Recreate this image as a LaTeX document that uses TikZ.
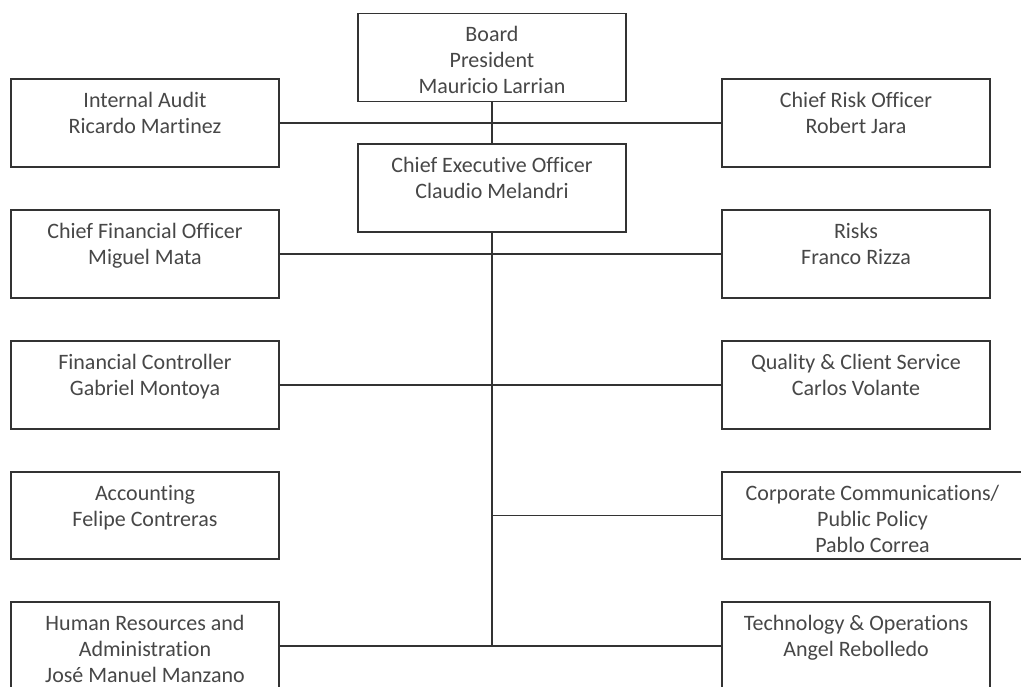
\documentclass[tikz,border=0pt]{standalone}
\usepackage{fontspec}
\setmainfont[Ligatures=NoCommon]{Carlito}
\usetikzlibrary{calc}
\definecolor{txtgray}{HTML}{474747}
\definecolor{linegray}{HTML}{333333}
\begin{document}
\begin{tikzpicture}[x=1pt,y=-1pt,
  box/.style={draw=linegray, line width=1.5pt, minimum width=268pt, minimum height=88pt, inner sep=0pt},
  txt/.style={anchor=north, inner sep=0pt, align=center, text=txtgray, font=\fontsize{22}{26}\selectfont},
  conn/.style={draw=linegray, line width=1.5pt}]
\useasboundingbox (0,0) rectangle (1021,687);
\fill[white] (0,0) rectangle (1021,687);
% boxes
\node[box] (board) at (492,57.5) {};
\node[box] (ceo)   at (492,188) {};
\node[box] (ia)    at (145,123) {};
\node[box] (cro)   at (856,123) {};
\node[box] (cfo)   at (145,254) {};
\node[box] (risks) at (856,254) {};
\node[box] (fc)    at (145,385) {};
\node[box] (qcs)   at (856,385) {};
\node[box, minimum height=87pt] (acc) at (145,515.5) {};
\node[box, minimum height=87pt, minimum width=301pt] (cc) at (872.5,515.5) {};
\node[box] (hr)    at (145,646) {};
\node[box] (tech)  at (856,646) {};
% texts
\newcommand{\fl}{\rule{0pt}{17pt}}
\node[txt] (board-t) at ($(board.north)+(0,12)$) {\fl Board\\President\\Mauricio Larrian};
\node[txt] (ceo-t)   at ($(ceo.north)+(0,12)$) {\fl Chief Executive Officer\\Claudio Melandri};
\node[txt] (ia-t)    at ($(ia.north)+(0,12)$) {\fl Internal Audit\\Ricardo Martinez};
\node[txt] (cro-t)   at ($(cro.north)+(0,12)$) {\fl Chief Risk Officer\\Robert Jara};
\node[txt] (cfo-t)   at ($(cfo.north)+(0,12)$) {\fl Chief Financial Officer\\Miguel Mata};
\node[txt] (risks-t) at ($(risks.north)+(0,12)$) {\fl Risks\\Franco Rizza};
\node[txt] (fc-t)    at ($(fc.north)+(0,12)$) {\fl Financial Controller\\Gabriel Montoya};
\node[txt] (qcs-t)   at ($(qcs.north)+(0,12)$) {\fl Quality \& Client Service\\Carlos Volante};
\node[txt] (acc-t)   at ($(acc.north)+(0,12)$) {\fl Accounting\\Felipe Contreras};
\node[txt] (cc-t)    at ($(cc.north)+(0,12)$) {\fl Corporate Communications/\\Public Policy\\Pablo Correa};
\node[txt] (hr-t)    at ($(hr.north)+(0,12)$) {\fl Human Resources and\\Administration\\José Manuel Manzano};
\node[txt] (tech-t)  at ($(tech.north)+(0,12)$) {\fl Technology \& Operations\\Angel Rebolledo};
% connectors
\coordinate (spineend) at (ceo.south |- hr.east);
\coordinate (ccjoin) at (ceo.south |- cc.west);
\draw[conn] (board.south) -- (ceo.north);
\draw[conn] (ia.east) -- (cro.west);
\draw[conn] (ceo.south) -- (spineend);
\draw[conn] (cfo.east) -- (risks.west);
\draw[conn] (fc.east) -- (qcs.west);
\draw[conn] (ccjoin) -- (cc.west);
\draw[conn] (hr.east) -- (tech.west);
\end{tikzpicture}
\end{document}
